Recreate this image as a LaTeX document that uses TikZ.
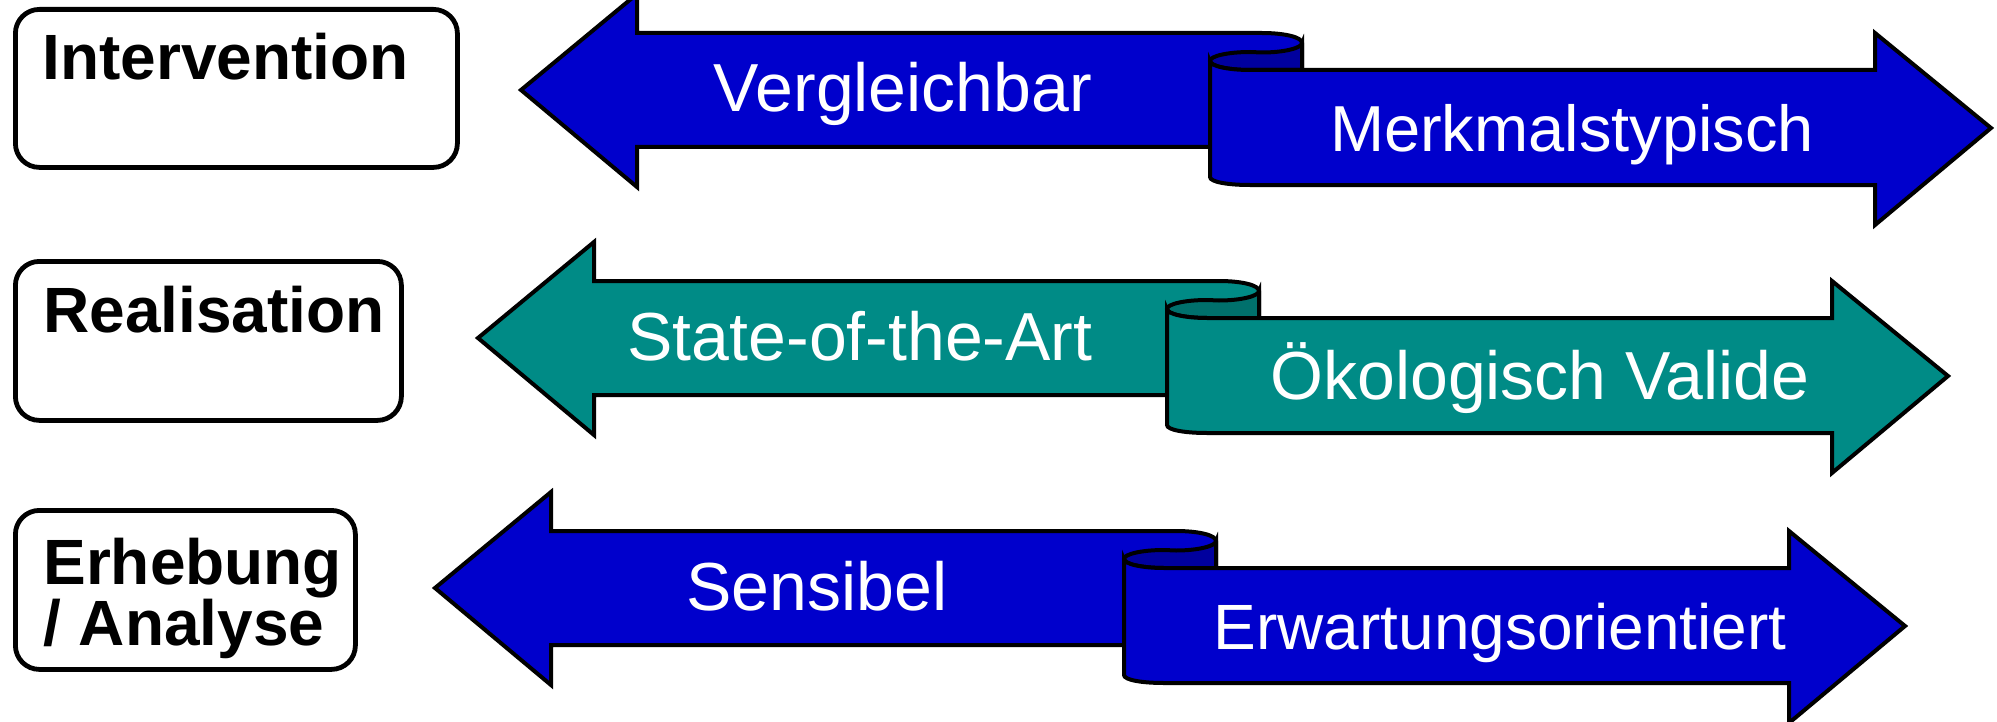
\documentclass[tikz,border=0pt]{standalone}
\usepackage{fontspec}
\setmainfont{Liberation Sans}
\definecolor{ribbonblue}{RGB}{0,0,204}
\definecolor{ribbonbluedark}{RGB}{0,0,158}
\definecolor{ribbonteal}{RGB}{0,139,134}
\definecolor{ribbontealdark}{RGB}{0,112,108}
\tikzset{
  outline/.style={draw=black, line width=2pt, line join=miter},
  ribbontext/.style={text=white, anchor=base, inner sep=0pt},
  labelbox/.style={draw=black, line width=2.4pt, rounded corners=12pt, fill=white, inner sep=0pt, anchor=north west},
  labeltext/.style={font=\bfseries\fontsize{32}{30.5}\selectfont, anchor=base west, inner sep=0pt, align=left},
}
% #1,#2: offset of the row; #3,#4: main and shaded colour;
% #5,#6: node names; #7,#8: texts on the left and right arrows;
% #9: horizontal centre and font size of the right text, as {x}{size}
\newcommand\ribbonpair[9]{%
  \begin{scope}[shift={(#1,#2)}]
    % left-pointing arrow, its top edge curling over at the fold
    \path[outline, fill=#3]
      (521,90) -- (637,-6) -- (637,33) -- (1262,33)
      .. controls (1284,33) and (1302,37) .. (1302,43)
      -- (1302,147) -- (637,147) -- (637,187) -- cycle;
    % inner face of the fold
    \path[outline, fill=#4]
      (1302,43) .. controls (1302,48) and (1284,52.5) .. (1262,52.5)
      -- (1250,52) .. controls (1228,52) and (1210,56) .. (1210,61)
      .. controls (1210,66) and (1228,70) .. (1250,70)
      -- (1302,70) -- cycle;
    % right-pointing arrow in front
    \path[outline, fill=#3]
      (1210,61) .. controls (1210,66) and (1228,70) .. (1250,70)
      -- (1875,70) -- (1875,33) -- (1991,128) -- (1875,225)
      -- (1875,185) -- (1250,185)
      .. controls (1228,185) and (1210,182) .. (1210,177) -- cycle;
    \node[ribbontext, font=\fontsize{34}{40}\selectfont] (#5) at (903,112) {#7};
    \rightlabel{#6}{#8}#9%
  \end{scope}}
\newcommand\rightlabel[4]{%
  \node[ribbontext, font=\fontsize{#4}{40}\selectfont] (#1) at (#3,151) {#2};}

\begin{document}
\begin{tikzpicture}[x=0.5pt, y=-0.5pt]
  \useasboundingbox (0,0) rectangle (1997,722);
  \begin{scope}
    \clip (0,0) rectangle (1997,722);
    \ribbonpair{0}{0}{ribbonblue}{ribbonbluedark}{vergleichbar}{merkmalstypisch}{Vergleichbar}{Merkmalstypisch}{{1572}{32.5}}
    \ribbonpair{-43}{248}{ribbonteal}{ribbontealdark}{stateart}{oekologisch}{State-of-the-Art}{Ökologisch Valide}{{1583}{34}}
    \ribbonpair{-86}{498}{ribbonblue}{ribbonbluedark}{sensibel}{erwartung}{Sensibel}{Erwartungsorientiert}{{1586}{32}}
  \end{scope}

  % row labels
  \node[labelbox, minimum width=221pt, minimum height=79pt] (intervention) at (13,7) {};
  \node[labeltext] (interventiontext) at (42,80) {Intervention};
  \node[labelbox, minimum width=193pt, minimum height=79.5pt] (realisation) at (13,259) {};
  \node[labeltext] (realisationtext) at (43,332) {Realisation};
  \node[labelbox, minimum width=170pt, minimum height=79.5pt] (erhebung) at (13,508) {};
  \node[labeltext] (erhebungtext) at (43,645) {Erhebung\\/ Analyse};
\end{tikzpicture}
\end{document}
